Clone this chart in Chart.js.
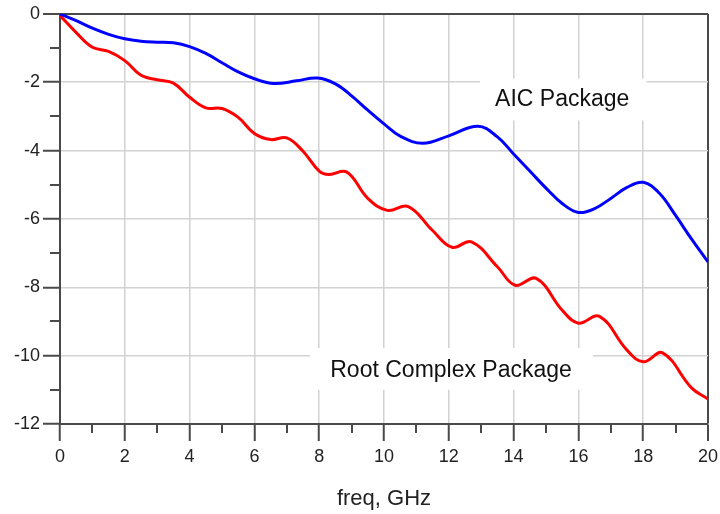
<!DOCTYPE html>
<html lang="en">
<head>
  <meta charset="UTF-8">
  <title>Insertion loss vs frequency</title>
  <style>
    body { margin: 0; background: #fff; }
    #wrap { width: 720px; height: 514px; position: relative; }
  </style>
  <script src="https://cdn.jsdelivr.net/npm/chart.js"></script>
</head>
<body>
  <div id="wrap"><canvas id="chart"></canvas></div>
  <script>
    // AIC Package curve (dB vs GHz)
    const aicFreq = [0, 0.5, 1, 1.5, 2, 2.5, 3, 3.5, 4, 4.5, 5, 5.5, 6, 6.6, 7.3, 7.95, 8.5, 9, 9.5, 10,
                     10.5, 11.2, 12, 12.9, 13.5, 14, 14.5, 15, 15.5, 16, 16.5, 17, 17.5, 18, 18.5, 19, 19.5, 20];
    const aicLoss = [0, -0.2, -0.42, -0.6, -0.73, -0.8, -0.83, -0.85, -0.96, -1.16, -1.43, -1.7, -1.9, -2.04, -1.96, -1.88, -2.05, -2.4, -2.82, -3.22,
                     -3.58, -3.79, -3.57, -3.29, -3.6, -4.1, -4.6, -5.1, -5.55, -5.81, -5.7, -5.4, -5.08, -4.93, -5.25, -5.9, -6.6, -7.26];

    // Root Complex Package curve
    const rootFreq = [0, 0.5, 1, 1.5, 2, 2.5, 3, 3.5, 4, 4.5, 5, 5.5, 6, 6.5, 7, 7.5, 8, 8.3, 8.85, 9.5,
                      10.1, 10.75, 11.5, 12.1, 12.7, 13.5, 14.05, 14.7, 15.5, 16, 16.65, 17.5, 18, 18.6, 19.5, 20];
    const rootLoss = [-0.05, -0.55, -0.98, -1.1, -1.37, -1.8, -1.93, -2.03, -2.44, -2.75, -2.77, -3.03, -3.5, -3.68, -3.63, -4.02, -4.6, -4.7, -4.63, -5.4,
                      -5.75, -5.64, -6.34, -6.83, -6.67, -7.4, -7.94, -7.74, -8.67, -9.05, -8.85, -9.84, -10.18, -9.92, -10.95, -11.27];

    const xTicks = [0, 2, 4, 6, 8, 10, 12, 14, 16, 18, 20];
    const yTicks = [0, -2, -4, -6, -8, -10, -12];
    const xTitle = 'freq, GHz';
    const seriesNames = ['AIC Package', 'Root Complex Package'];

    const FONT = '"Liberation Sans", Arial, sans-serif';
    const AXIS = '#4a4a4a';
    const GRID = '#d2d2d2';

    const toPoints = (xs, ys) => xs.map((x, i) => ({ x: x, y: ys[i] }));

    // minor tick marks at the odd values, and the in-plot labels on white boxes
    const extras = {
      id: 'extras',
      beforeDatasetsDraw(chart) {
        const { ctx, scales: { x, y } } = chart;
        const labels = [
          { text: seriesNames[0], cx: 15.5, cy: -2.5, box: [12.96, 18.1, -1.9, -3.12] },
          { text: seriesNames[1], cx: 12.07, cy: -10.45, box: [7.72, 16.45, -9.78, -11.0] }
        ];
        ctx.save();
        labels.forEach(l => {
          const x0 = x.getPixelForValue(l.box[0]), x1 = x.getPixelForValue(l.box[1]);
          const y0 = y.getPixelForValue(l.box[2]), y1 = y.getPixelForValue(l.box[3]);
          ctx.fillStyle = '#fff';
          ctx.fillRect(x0, y0, x1 - x0, y1 - y0);
          ctx.fillStyle = '#111';
          ctx.font = '23px ' + FONT;
          ctx.textAlign = 'center';
          ctx.textBaseline = 'middle';
          ctx.fillText(l.text, x.getPixelForValue(l.cx), y.getPixelForValue(l.cy));
        });
        ctx.restore();
      },
      afterDraw(chart) {
        const { ctx, scales: { x, y } } = chart;
        ctx.save();
        ctx.strokeStyle = AXIS;
        ctx.lineWidth = 2;
        ctx.beginPath();
        for (let v = 1; v < 20; v += 2) {
          const px = Math.round(x.getPixelForValue(v));
          ctx.moveTo(px, y.bottom);
          ctx.lineTo(px, y.bottom + 9);
        }
        for (let v = -11; v < 0; v += 2) {
          const py = Math.round(y.getPixelForValue(v));
          ctx.moveTo(x.left - 10, py);
          ctx.lineTo(x.left, py);
        }
        ctx.stroke();
        ctx.restore();
      }
    };

    new Chart(document.getElementById('chart'), {
      type: 'line',
      data: {
        datasets: [
          { label: seriesNames[0], data: toPoints(aicFreq, aicLoss), borderColor: '#0000ff', borderWidth: 3,
            pointRadius: 0, tension: 0.4, fill: false },
          { label: seriesNames[1], data: toPoints(rootFreq, rootLoss), borderColor: '#ff0000', borderWidth: 3,
            pointRadius: 0, tension: 0.4, fill: false }
        ]
      },
      options: {
        responsive: true,
        maintainAspectRatio: false,
        animation: false,
        layout: { padding: { left: 0, right: 12, top: 13, bottom: 0 } },
        plugins: { legend: { display: false }, tooltip: { enabled: false } },
        scales: {
          x: {
            type: 'linear', min: 0, max: 20,
            afterBuildTicks: s => { s.ticks = xTicks.map(v => ({ value: v })); },
            afterFit: s => { s.height = 90; s.paddingRight = 0; },
            ticks: { color: '#222', padding: 5, maxRotation: 0, font: { family: FONT, size: 18 } },
            grid: {
              color: c => c.tick && c.tick.value === 20 ? AXIS : GRID,
              lineWidth: c => c.tick && c.tick.value === 20 ? 2 : 1.5,
              tickColor: AXIS, tickWidth: 2, tickLength: 17
            },
            border: { color: AXIS, width: 2 },
            title: { display: true, text: xTitle, color: '#222', padding: { top: 0, bottom: 2 },
                     font: { family: FONT, size: 22 } }
          },
          y: {
            type: 'linear', min: -12, max: 0,
            afterBuildTicks: s => { s.ticks = yTicks.map(v => ({ value: v })); },
            afterFit: s => { s.width = 60; },
            ticks: { color: '#222', padding: 3, font: { family: FONT, size: 18 } },
            grid: {
              color: c => c.tick && c.tick.value === 0 ? AXIS : GRID,
              lineWidth: c => c.tick && c.tick.value === 0 ? 2 : 1.5,
              tickColor: AXIS, tickWidth: 2, tickLength: 17
            },
            border: { color: AXIS, width: 2 }
          }
        }
      },
      plugins: [extras]
    });
  </script>
</body>
</html>
